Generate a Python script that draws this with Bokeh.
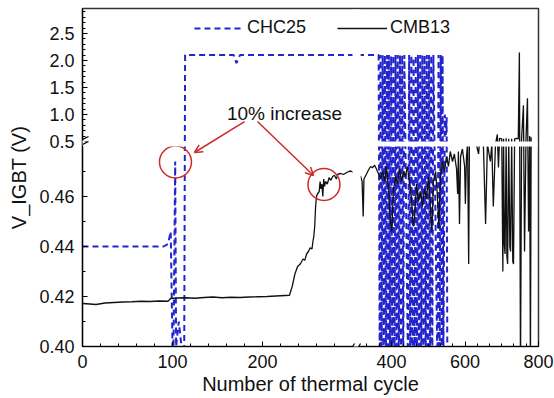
from bokeh.plotting import figure
from bokeh.models import (Range1d, FixedTicker, CustomJSTransform, ColumnDataSource,
                          Legend, LegendItem, Arrow, OpenHead, BoxAnnotation)
from bokeh.transform import transform
from bokeh.core.properties import value
from bokeh.embed import file_html
from bokeh.resources import INLINE

# ---------------- data ----------------
chc_x = [0, 90, 95, 98, 100, 101, 103, 104, 107, 110, 113, 114, 168, 171, 175, 365,
         368, 370, 373, 376, 379, 382, 385, 388, 391, 393, 396, 399, 402, 405, 408, 411,
         414, 417, 420, 423, 426, 429, 432, 435, 445, 448, 451, 454, 457, 460, 463, 466,
         469, 472, 475, 478, 481, 484, 487, 490, 493, 496, 499, 502, 505, 508, 511, 514,
         525, 528, 531, 534, 537, 539, 541, 545, 548, 550, 552]
chc_v = [0.44, 0.44, 0.441, 0.446, 0.40, 0.395, 0.474, 0.40, 0.41, 0.40, 0.395, 2.1, 2.1, 1.95, 2.1, 2.1,
         0.39, 2.1, 0.39, 2.1, 0.39, 2.1, 0.39, 2.1, 0.39, 2.1, 0.39, 2.08, 0.39, 2.1, 0.39, 2.1,
         0.39, 2.1, 0.39, 2.1, 0.39, 2.1, 0.39, 2.1, 0.39, 2.1, 0.39, 2.1, 0.39, 2.05, 0.39, 2.1,
         0.39, 2.1, 0.39, 2.1, 0.39, 2.1, 0.39, 2.1, 0.39, 2.1, 0.39, 2.1, 0.39, 2.1, 0.39, 2.1,
         0.39, 2.1, 0.39, 2.1, 0.39, 2.1, 0.39, 1.0, 0.62, 0.95, 0.39]

cmb_x = [0, 8, 15, 25, 35, 45, 55, 65, 75, 85, 95, 98, 105, 115, 125, 135, 145, 155, 165, 175,
         185, 195, 205, 215, 225, 230, 233, 236, 239, 242, 245, 247, 249, 251, 253, 255, 256, 257, 258, 259,
         260, 261, 263, 264, 265, 266, 267, 268, 269, 270, 272, 274, 276, 278, 280, 282, 284, 287, 290, 293,
         296, 298,
         316, 320, 323, 325, 332, 337, 343, 348, 354, 359, 365, 370, 376, 381, 386, 392, 397, 401,
         405, 411, 416, 422, 427, 433, 438, 443, 449, 454, 459, 463, 468, 473, 479, 484, 490, 495,
         501, 506, 510, 514, 520, 525, 529, 533, 539, 544, 550, 555, 560, 566, 571, 577, 580, 582,
         585, 588, 593, 599, 601, 604, 607, 610, 612, 618, 623, 631, 637, 639, 650, 656, 661, 669,
         673, 677, 683, 688, 691, 694, 700, 703, 705, 707, 709, 712, 714, 716, 719, 722, 724, 727,
         730, 732, 735, 740, 745, 748, 751, 754, 759, 762, 766, 770, 773, 776, 778, 780]
cmb_v = [0.4172, 0.4170, 0.4168, 0.4174, 0.4176, 0.4178, 0.4179, 0.4181, 0.4180, 0.4182,
         0.4181, 0.4192, 0.4194, 0.4195, 0.4193, 0.4196, 0.4198, 0.4195, 0.4197, 0.4196,
         0.4198, 0.4199, 0.4200, 0.4202, 0.4204, 0.4205, 0.4240, 0.4290, 0.4320, 0.4330,
         0.4350, 0.4345, 0.4370, 0.4380, 0.4395, 0.4390, 0.4420, 0.4440, 0.4480, 0.4560,
         0.4600, 0.4610, 0.4620, 0.4660, 0.4630, 0.4650, 0.4600, 0.4670, 0.4640, 0.4660,
         0.4650, 0.4675, 0.4665, 0.4680, 0.4685, 0.4670, 0.4690, 0.4692, 0.4688, 0.4695,
         0.4700, 0.4702,
         0.468, 0.466, 0.452, 0.467, 0.469, 0.4705, 0.472, 0.4715, 0.4725, 0.471, 0.469, 0.467,
         0.470, 0.466, 0.472, 0.463, 0.450, 0.446, 0.462, 0.468, 0.465, 0.471, 0.466, 0.470,
         0.468, 0.472, 0.466, 0.460, 0.448, 0.452, 0.465, 0.458, 0.462, 0.456, 0.463, 0.459,
         0.468, 0.455, 0.446, 0.466, 0.470, 0.460, 0.447, 0.468, 0.474, 0.470, 0.476, 0.472,
         0.478, 0.474, 0.477, 0.471, 0.461, 0.478, 0.449, 0.476, 0.479, 0.472, 0.457, 0.476,
         0.490, 0.433, 0.490, 0.488, 0.490, 0.488, 0.477, 0.490, 0.490, 0.449, 0.490, 0.474,
         0.490, 0.456, 0.490, 0.63, 0.4716, 0.56, 0.55, 0.430, 0.55, 0.441, 0.437, 0.56,
         0.436, 0.433, 0.55, 0.440, 0.438, 0.55, 0.434, 0.433, 0.55, 0.56, 0.55, 2.15,
         0.39, 0.55, 1.17, 0.438, 0.55, 1.30, 0.446, 0.60, 0.39, 0.58]

series_names = ["CHC25", "CMB13"]

# tick values and labels
x_major = [0, 100, 200, 400, 600, 800]
x_major_labels = ["0", "100", "200", "400", "600", "800"]
x_minor = [20, 40, 60, 80, 120, 140, 160, 180, 220, 240, 260, 280,
           333, 367, 433, 467, 500, 533, 567, 633, 667, 700, 733, 767]
y_major = [0.40, 0.42, 0.44, 0.46, 0.5, 1.0, 1.5, 2.0, 2.5]
y_major_labels = ["0.40", "0.42", "0.44", "0.46", "0.5", "1.0", "1.5", "2.0", "2.5"]
y_minor = [0.41, 0.43, 0.45, 0.47, 0.6, 0.7, 0.8, 0.9, 1.1, 1.2, 1.3, 1.4, 1.6, 1.7, 1.8, 1.9,
           2.1, 2.2, 2.3, 2.4, 2.6, 2.7, 2.8, 2.9]

# annotations (data units)
note_text = ["10% increase"]
note_x = [224.4]
note_v = [1.02]
circle_x = [103.3, 268.3]
circle_v = [0.4738, 0.4648]
arrow_x0 = [180.0, 194.4]
arrow_v0 = [0.87, 0.87]
arrow_x1 = [124.4, 256.7]
arrow_v1 = [0.4776, 0.4684]

# ---------------- broken-axis scales ----------------
XA = dict(b1=300.0, b2=316.0, s1=0.9, g0=270.0, g1=278.0, o2=309.0, c2=400.0, s2=0.3675)
YA = dict(lo=0.4, b1=0.48, b2=0.5, s1=2500.0, g0=200.0, g1=205.0, s2=54.0)

def map_x(x):
    a = XA
    if x <= a["b1"]:
        return x * a["s1"]
    if x < a["b2"]:
        return a["g0"] + (x - a["b1"]) * (a["g1"] - a["g0"]) / (a["b2"] - a["b1"])
    return a["o2"] + (x - a["c2"]) * a["s2"]

def map_y(v):
    a = YA
    if v <= a["b1"]:
        return (v - a["lo"]) * a["s1"]
    if v < a["b2"]:
        return a["g0"] + (v - a["b1"]) * (a["g1"] - a["g0"]) / (a["b2"] - a["b1"])
    return a["g1"] + (v - a["b2"]) * a["s2"]

X_EXPR = "(x <= b1 ? x*s1 : (x < b2 ? g0 + (x-b1)*(g1-g0)/(b2-b1) : o2 + (x-c2)*s2))"
Y_EXPR = "(x <= b1 ? (x-lo)*s1 : (x < b2 ? g0 + (x-b1)*(g1-g0)/(b2-b1) : g1 + (x-b2)*s2))"

def make_tr(args, expr):
    return CustomJSTransform(
        args=args,
        func="return " + expr + ";",
        v_func=("const out = new Float64Array(xs.length);"
                "for (let i = 0; i < xs.length; i++) { const x = xs[i]; out[i] = " + expr + "; }"
                "return out;"))

xt = make_tr(XA, X_EXPR)
yt = make_tr(YA, Y_EXPR)

FONT = "Liberation Sans"
BLUE = "#2424cc"
BLACK = "#111111"
RED = "#cc2b2b"

p = figure(width=554, height=398, x_range=Range1d(0, 456), y_range=Range1d(0, 338),
           output_backend="svg", toolbar_location=None,
           min_border_left=82, min_border_right=16, min_border_top=8, min_border_bottom=52)
p.xgrid.visible = False
p.ygrid.visible = False
p.outline_line_color = "#333333"
p.outline_line_width = 1.5
p.background_fill_color = "white"
p.border_fill_color = "white"

src_chc = ColumnDataSource(dict(x=chc_x, v=chc_v))
src_cmb = ColumnDataSource(dict(x=cmb_x, v=cmb_v))
r_chc = p.line(x=transform("x", xt), y=transform("v", yt), source=src_chc,
               line_color=BLUE, line_width=2.0, line_dash="6 4")
r_cmb = p.line(x=transform("x", xt), y=transform("v", yt), source=src_cmb,
               line_color=BLACK, line_width=1.3)

# white gap bands of the broken axes
p.add_layout(BoxAnnotation(bottom=map_y(0.48), top=map_y(0.5), left=0.5, right=455,
                           fill_color="white", fill_alpha=1, line_alpha=0))
p.add_layout(BoxAnnotation(left=map_x(300), right=map_x(316), bottom=1, top=337,
                           fill_color="white", fill_alpha=1, line_alpha=0))

# red circles, arrows, text
p.scatter(x=transform("x", xt), y=transform("v", yt), source=ColumnDataSource(dict(x=circle_x, v=circle_v)),
          marker="circle", size=32, fill_alpha=0, line_color=RED, line_width=1.5)
p.add_layout(Arrow(x_start=transform("x0", xt), y_start=transform("v0", yt),
                   x_end=transform("x1", xt), y_end=transform("v1", yt),
                   source=ColumnDataSource(dict(x0=arrow_x0, v0=arrow_v0, x1=arrow_x1, v1=arrow_v1)),
                   line_color=RED, line_width=1.5,
                   end=OpenHead(size=8, line_color=RED, line_width=1.5)))
p.text(x=transform("x", xt), y=transform("v", yt), text="t",
       source=ColumnDataSource(dict(x=note_x, v=note_v, t=note_text)),
       text_align="center", text_baseline="middle", text_font=value(FONT),
       text_font_size=value("19px"), text_color=BLACK)

# axes
xa = p.xaxis[0]
xpos = [round(map_x(v), 3) for v in x_major]
xa.ticker = FixedTicker(ticks=xpos, minor_ticks=[round(map_x(v), 3) for v in x_minor])
xa.major_label_overrides = {k: s for k, s in zip(xpos, x_major_labels)}
xa.axis_label = "Number of thermal cycle"
ya = p.yaxis[0]
ypos = [round(map_y(v), 3) for v in y_major]
ya.ticker = FixedTicker(ticks=ypos, minor_ticks=[round(map_y(v), 3) for v in y_minor])
ya.major_label_overrides = {k: s for k, s in zip(ypos, y_major_labels)}
ya.axis_label = "V_IGBT (V)"
for ax in (xa, ya):
    ax.major_tick_in = 5
    ax.major_tick_out = 0
    ax.minor_tick_in = 3
    ax.minor_tick_out = 0
    ax.axis_line_color = "black"
    ax.axis_line_width = 1.2
    ax.major_tick_line_color = "black"
    ax.minor_tick_line_color = "black"
    ax.major_label_text_font = FONT
    ax.major_label_text_font_size = "18px"
    ax.major_label_text_color = BLACK
    ax.axis_label_text_font = FONT
    ax.axis_label_text_font_size = "20px"
    ax.axis_label_text_font_style = "normal"
    ax.axis_label_text_color = BLACK
xa.major_label_standoff = 8
xa.axis_label_standoff = 2
ya.major_label_standoff = 8
ya.axis_label_standoff = 6

# axis break marks
bx = map_x(300)
p.add_layout(Arrow(x_start=bx + 1, y_start=0, x_end=bx + 6, y_end=0, end=None,
                   line_color="white", line_width=4))
p.add_layout(Arrow(x_start=bx - 5, y_start=-9, x_end=bx + 2, y_end=3, end=None,
                   line_color="black", line_width=1.2))
p.add_layout(Arrow(x_start=bx + 1, y_start=-9, x_end=bx + 8, y_end=3, end=None,
                   line_color="black", line_width=1.2))
by = map_y(0.48)
p.add_layout(Arrow(x_start=0, y_start=by + 1, x_end=0, y_end=by + 6, end=None,
                   line_color="white", line_width=4))
p.add_layout(Arrow(x_start=-6, y_start=by - 1, x_end=6, y_end=by + 5, end=None,
                   line_color="black", line_width=1.2))
p.add_layout(Arrow(x_start=-6, y_start=by + 4, x_end=6, y_end=by + 10, end=None,
                   line_color="black", line_width=1.2))

legend = Legend(items=[LegendItem(label=series_names[0], renderers=[r_chc]),
                       LegendItem(label=series_names[1], renderers=[r_cmb])],
                orientation="horizontal", location=(112, 308),
                glyph_width=50, glyph_height=16, label_standoff=3, spacing=31,
                padding=0, margin=0, border_line_alpha=0, background_fill_alpha=0,
                label_text_font=FONT, label_text_font_size="18px", label_text_color=BLACK)
p.add_layout(legend)

open("out.html", "w").write(file_html(p, INLINE))
